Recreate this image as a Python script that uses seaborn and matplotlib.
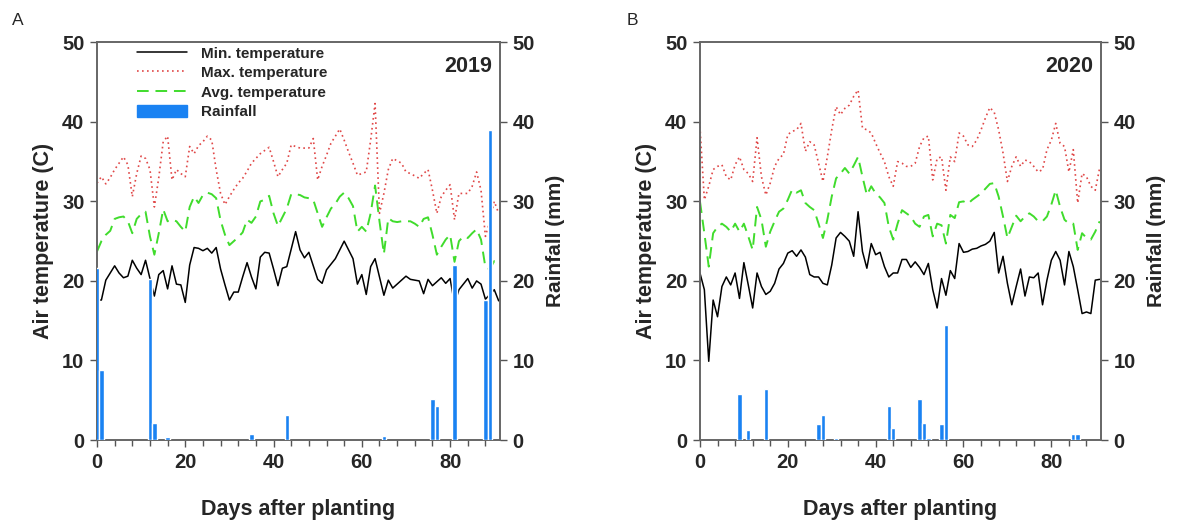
import numpy as np
import pandas as pd
import seaborn as sns
import matplotlib.pyplot as plt
from matplotlib.ticker import MultipleLocator
from matplotlib.patches import Patch
from matplotlib.lines import Line2D

# ---- data (days after planting 0..91) ----
days = list(range(92))

min_2019 = [17.6, 17.6, 20.1, 21.0, 21.9, 21.0, 20.4, 20.6, 22.6, 21.6,
            20.8, 22.6, 20.3, 18.1, 20.8, 21.3, 19.0, 21.9, 19.6, 19.5,
            17.3, 22.0, 24.2, 24.1, 23.8, 24.1, 23.5, 24.2, 21.5, 19.5,
            17.6, 18.6, 18.6, 20.5, 22.3, 20.5, 19.0, 23.0, 23.6, 23.5,
            21.5, 19.4, 21.6, 21.8, 24.0, 26.2, 23.9, 22.9, 23.6, 21.9,
            20.2, 19.7, 21.4, 22.1, 22.8, 23.9, 25.0, 23.9, 22.8, 19.6,
            20.8, 18.3, 21.8, 22.8, 20.5, 18.2, 20.1, 19.1, 19.6, 20.1,
            20.6, 20.2, 20.1, 20.0, 18.4, 20.2, 19.4, 19.9, 20.4, 19.7,
            20.3, 17.1, 18.9, 19.6, 20.3, 19.1, 20.0, 19.6, 17.7, 18.3,
            18.9, 17.5]
max_2019 = [32.3, 33.1, 32.2, 33.0, 34.0, 34.8, 35.6, 34.6, 30.6, 33.5,
            35.7, 35.4, 34.0, 29.3, 33.0, 37.5, 38.2, 32.7, 34.0, 33.5,
            33.1, 36.9, 36.0, 37.0, 37.5, 38.2, 37.7, 34.0, 31.0, 29.6,
            30.6, 31.5, 32.3, 32.9, 33.8, 34.8, 35.4, 36.0, 36.4, 36.8,
            35.0, 33.1, 34.0, 34.8, 37.1, 36.9, 36.7, 36.7, 36.7, 37.9,
            32.7, 34.4, 35.8, 37.3, 38.2, 39.1, 37.7, 36.2, 34.8, 33.3,
            33.5, 33.7, 37.7, 42.3, 28.5, 31.0, 34.0, 35.4, 35.1, 34.8,
            33.7, 33.5, 33.2, 32.9, 33.5, 34.0, 31.4, 28.5, 30.6, 31.4,
            32.1, 27.7, 31.0, 31.0, 31.0, 31.9, 33.7, 31.4, 25.6, 27.5,
            30.0, 28.5]
avg_2019 = [23.7, 25.0, 25.8, 26.3, 27.8, 28.0, 28.1, 27.5, 26.0, 27.8,
            28.4, 28.7, 25.6, 23.3, 26.0, 29.0, 27.5, 27.7, 27.5, 26.8,
            26.2, 29.3, 30.6, 29.8, 30.8, 31.1, 30.9, 30.4, 27.6, 25.8,
            24.5, 25.0, 25.5, 26.1, 27.7, 27.3, 28.1, 30.0, 30.2, 30.7,
            28.5, 26.9, 28.0, 29.1, 30.9, 30.9, 30.8, 30.5, 30.4, 30.2,
            28.5, 26.8, 28.0, 29.1, 29.7, 30.6, 31.1, 30.4, 29.4, 26.2,
            26.8, 26.2, 28.5, 32.0, 27.5, 23.4, 27.9, 27.5, 27.4, 27.5,
            27.5, 27.5, 27.2, 26.8, 27.8, 28.0, 25.8, 23.3, 24.3, 25.2,
            25.8, 22.4, 25.0, 25.6, 25.4, 26.0, 26.5, 25.2, 21.7, 21.5,
            22.5, 22.4]
rain_days_2019 = [0, 1, 12, 13, 16, 35, 43, 65, 76, 77, 81, 88, 89]
rain_2019 = [21.6, 8.8, 20.3, 2.2, 0.4, 0.8, 3.1, 0.5, 5.2, 4.3, 22.0, 17.6, 39.0]

min_2020 = [21.0, 18.9, 9.9, 17.6, 15.5, 19.3, 20.5, 19.5, 21.0, 17.8,
            22.3, 19.5, 16.6, 21.0, 19.3, 18.3, 18.7, 19.7, 21.5, 22.2,
            23.5, 23.8, 23.1, 23.9, 23.0, 20.8, 20.5, 20.5, 19.7, 19.5,
            22.0, 25.4, 26.1, 25.6, 25.0, 23.1, 28.7, 23.7, 21.6, 24.7,
            23.3, 23.6, 21.8, 20.5, 21.0, 21.0, 22.7, 22.7, 21.7, 22.4,
            21.7, 20.8, 22.2, 18.9, 16.6, 20.3, 18.2, 21.3, 20.3, 24.7,
            23.6, 23.7, 24.0, 24.1, 24.4, 24.6, 25.0, 26.1, 21.0, 23.1,
            19.7, 17.0, 19.3, 21.5, 18.1, 20.5, 20.4, 21.0, 17.0, 20.1,
            22.6, 23.7, 22.6, 19.5, 23.7, 21.8, 18.9, 15.9, 16.1, 15.9,
            20.1, 20.2]
max_2020 = [39.4, 30.2, 31.9, 34.0, 34.4, 34.6, 33.1, 32.7, 34.6, 35.6,
            34.0, 33.5, 32.5, 38.0, 33.1, 30.8, 32.3, 34.4, 35.4, 35.9,
            38.4, 38.8, 39.0, 39.8, 36.3, 37.5, 37.1, 34.8, 32.5, 35.6,
            39.0, 41.9, 40.9, 41.7, 42.1, 43.2, 44.0, 39.2, 39.0, 38.6,
            37.3, 36.1, 35.0, 33.1, 31.9, 35.0, 34.8, 34.4, 34.4, 34.8,
            36.9, 38.0, 38.2, 32.7, 35.4, 35.6, 31.4, 35.6, 35.0, 38.6,
            38.2, 37.1, 36.9, 37.7, 39.0, 40.5, 41.8, 41.2, 39.0, 36.1,
            32.5, 34.4, 35.6, 34.4, 35.2, 35.0, 34.4, 33.7, 34.0, 36.5,
            37.7, 39.8, 37.3, 36.9, 33.7, 36.5, 29.8, 33.5, 33.1, 31.9,
            31.4, 34.2]
avg_2020 = [30.0, 26.0, 21.8, 26.0, 26.8, 27.2, 26.8, 26.2, 27.2, 26.2,
            27.2, 25.6, 23.9, 29.3, 27.7, 24.3, 26.2, 27.5, 28.7, 29.1,
            30.2, 31.5, 31.1, 31.4, 29.8, 29.3, 28.9, 27.2, 25.4, 27.7,
            30.6, 32.9, 33.5, 34.2, 33.5, 34.5, 35.6, 33.1, 30.8, 31.9,
            31.0, 30.5, 29.8, 26.8, 25.2, 27.2, 28.9, 28.5, 28.1, 27.2,
            26.8, 28.1, 28.3, 25.6, 27.2, 27.0, 24.7, 28.3, 27.9, 29.9,
            30.0, 29.7, 30.2, 30.6, 31.0, 31.6, 32.2, 32.3, 30.6, 28.1,
            25.4, 26.8, 28.2, 27.5, 28.1, 28.5, 28.1, 27.5, 27.5, 28.1,
            29.6, 31.4, 29.3, 27.7, 27.2, 27.2, 23.9, 26.0, 25.4, 25.2,
            26.2, 27.5]
rain_days_2020 = [9, 11, 15, 27, 28, 31, 43, 44, 50, 51, 52, 55, 56, 85, 86]
rain_2020 = [5.8, 1.3, 6.4, 2.0, 3.1, 0.3, 4.3, 1.5, 5.2, 2.2, 0.3, 2.0, 14.5, 0.75, 0.75]

FONT = ['Liberation Sans', 'DejaVu Sans']
RED = '#e04848'
GREEN = '#40dc2c'
BLUE = '#1a82f2'


def panel(ax, mins, maxs, avgs, rdays, rain, year, legend):
    df = pd.DataFrame({'day': days, 'min': mins, 'max': maxs, 'avg': avgs})
    sns.lineplot(data=df, x='day', y='min', ax=ax, color='black', lw=1.1)
    sns.lineplot(data=df, x='day', y='max', ax=ax, color=RED, lw=1.2,
                 linestyle=(0, (1, 2)))
    sns.lineplot(data=df, x='day', y='avg', ax=ax, color=GREEN, lw=1.4,
                 linestyle=(0, (6, 3.5)))
    ax.set_xlim(0, 91.3)
    ax.set_ylim(0, 50)
    ax.yaxis.set_major_locator(MultipleLocator(10))
    ax.xaxis.set_major_locator(MultipleLocator(20))
    ax.xaxis.set_minor_locator(MultipleLocator(4))
    ax.set_xlabel('Days after planting', fontsize=15.5, fontweight='bold', labelpad=20)
    ax.set_ylabel('Air temperature (C)', fontsize=15.5, fontweight='bold', labelpad=6)

    ax2 = ax.twinx()
    ax2.bar(rdays, rain, width=1.0, color=BLUE, zorder=3)
    ax2.set_ylim(0, 50)
    ax2.yaxis.set_major_locator(MultipleLocator(10))
    ax2.set_ylabel('Rainfall (mm)', fontsize=15, fontweight='bold', labelpad=8)

    for a in (ax, ax2):
        a.tick_params(axis='both', which='major', labelsize=14.5, length=5,
                      width=1, direction='out', color='#555555', pad=4)
        a.tick_params(axis='x', which='minor', length=4, width=1, color='#555555')
        for lab in a.get_xticklabels() + a.get_yticklabels():
            lab.set_fontweight('bold')
        for s in a.spines.values():
            s.set_color('#666666')
            s.set_linewidth(1.2)
            s.set_visible(True)

    ax.text(0.98, 0.965, year, transform=ax.transAxes, ha='right', va='top',
            fontsize=15.5, fontweight='bold')

    if legend:
        handles = [Line2D([], [], color='black', lw=1.1),
                   Line2D([], [], color=RED, lw=1.2, linestyle=(0, (1, 2))),
                   Line2D([], [], color=GREEN, lw=1.4, linestyle=(0, (6, 3.5))),
                   Patch(color=BLUE)]
        labels = ['Min. temperature', 'Max. temperature', 'Avg. temperature', 'Rainfall']
        ax2.legend(handles, labels, loc='upper left', bbox_to_anchor=(0.065, 1.025),
                   frameon=False, prop={'weight': 'bold', 'size': 11},
                   handlelength=3.3, handleheight=0.9, labelspacing=0.32,
                   handletextpad=0.9)


sns.set_style('ticks')
plt.rcParams['font.family'] = FONT

fig = plt.figure(figsize=(11.77, 5.22), dpi=100)
ax_a = fig.add_axes([0.0824, 0.157, 0.3424, 0.762])
ax_b = fig.add_axes([0.5947, 0.157, 0.3407, 0.762])

panel(ax_a, min_2019, max_2019, avg_2019, rain_days_2019, rain_2019, '2019', True)
panel(ax_b, min_2020, max_2020, avg_2020, rain_days_2020, rain_2020, '2020', False)

fig.text(0.010, 0.975, 'A', fontsize=12.5, va='top', ha='left')
fig.text(0.532, 0.975, 'B', fontsize=12.5, va='top', ha='left')

fig.savefig('out.png', dpi=100)
